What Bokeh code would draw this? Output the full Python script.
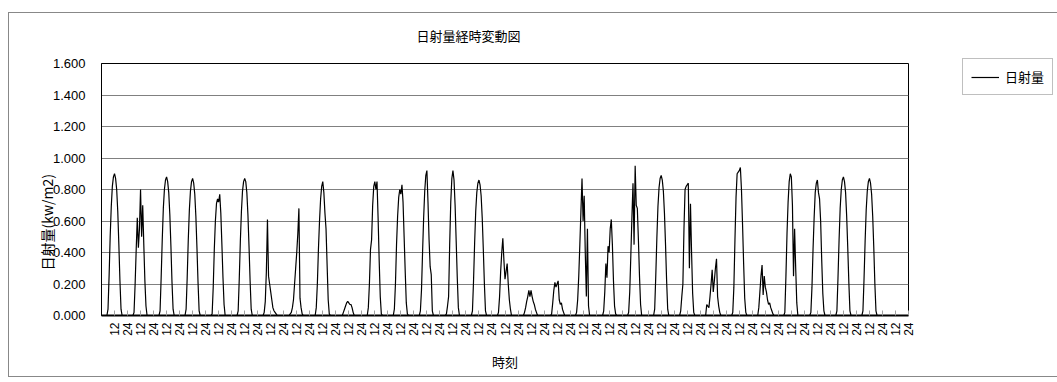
import math
from bokeh.plotting import figure
from bokeh.models import (Range1d, FixedTicker, PrintfTickFormatter, Title,
                          Legend, LegendItem)
from bokeh.embed import file_html
from bokeh.resources import INLINE

# ---------------- data (hourly solar radiation, kW/m2, 31 days x 24 h) -------
TITLE = "日射量経時変動図"
Y_LABEL = "日射量(kw/m2)"
X_LABEL = "時刻"
SERIES_NAME = "日射量"
HOUR_LABELS = ["12", "24"]
Y_TICKS = [0.0, 0.2, 0.4, 0.6, 0.8, 1.0, 1.2, 1.4, 1.6]
N_DAYS = 31

day01 = [0, 0, 0, 0, 0, 0.04, 0.25, 0.50, 0.69, 0.82, 0.88, 0.90, 0.87, 0.80, 0.66, 0.45, 0.22, 0.04, 0, 0, 0, 0, 0, 0]
day02 = [0, 0, 0, 0, 0, 0.02, 0.20, 0.42, 0.62, 0.43, 0.55, 0.80, 0.50, 0.70, 0.45, 0.22, 0.06, 0.00, 0, 0, 0, 0, 0, 0]
day03 = [0, 0, 0, 0, 0, 0.03, 0.24, 0.48, 0.68, 0.80, 0.86, 0.88, 0.85, 0.78, 0.64, 0.44, 0.21, 0.04, 0, 0, 0, 0, 0, 0]
day04 = [0, 0, 0, 0, 0, 0.04, 0.24, 0.48, 0.67, 0.79, 0.85, 0.87, 0.84, 0.77, 0.63, 0.43, 0.21, 0.03, 0, 0, 0, 0, 0, 0]
day05 = [0, 0, 0, 0, 0, 0.01, 0.18, 0.42, 0.60, 0.71, 0.74, 0.72, 0.77, 0.65, 0.45, 0.24, 0.07, 0.00, 0, 0, 0, 0, 0, 0]
day06 = [0, 0, 0, 0, 0, 0.03, 0.23, 0.47, 0.66, 0.79, 0.85, 0.87, 0.85, 0.78, 0.64, 0.44, 0.22, 0.04, 0, 0, 0, 0, 0, 0]
day07 = [0, 0, 0, 0, 0, 0.02, 0.09, 0.28, 0.61, 0.25, 0.20, 0.15, 0.10, 0.05, 0.03, 0.02, 0.01, 0.00, 0, 0, 0, 0, 0, 0]
day08 = [0, 0, 0, 0, 0, 0.01, 0.02, 0.05, 0.10, 0.20, 0.30, 0.40, 0.52, 0.68, 0.11, 0.05, 0.01, 0.00, 0, 0, 0, 0, 0, 0]
day09 = [0, 0, 0, 0, 0, 0.05, 0.20, 0.42, 0.60, 0.74, 0.82, 0.85, 0.78, 0.65, 0.55, 0.32, 0.10, 0.01, 0, 0, 0, 0, 0, 0]
day10 = [0, 0, 0, 0, 0, 0.00, 0.02, 0.04, 0.06, 0.08, 0.09, 0.08, 0.07, 0.07, 0.05, 0.02, 0.00, 0.00, 0, 0, 0, 0, 0, 0]
day11 = [0, 0, 0, 0, 0, 0.05, 0.20, 0.42, 0.48, 0.70, 0.82, 0.85, 0.80, 0.85, 0.62, 0.35, 0.12, 0.01, 0, 0, 0, 0, 0, 0]
day12 = [0, 0, 0, 0, 0, 0.04, 0.20, 0.45, 0.63, 0.75, 0.80, 0.77, 0.83, 0.72, 0.50, 0.28, 0.08, 0.01, 0, 0, 0, 0, 0, 0]
day13 = [0, 0, 0, 0, 0, 0.03, 0.16, 0.40, 0.62, 0.79, 0.89, 0.92, 0.72, 0.48, 0.31, 0.26, 0.03, 0.00, 0, 0, 0, 0, 0, 0]
day14 = [0, 0, 0, 0, 0, 0.01, 0.06, 0.12, 0.45, 0.72, 0.87, 0.92, 0.86, 0.70, 0.47, 0.24, 0.05, 0.00, 0, 0, 0, 0, 0, 0]
day15 = [0, 0, 0, 0, 0, 0.03, 0.22, 0.46, 0.66, 0.78, 0.84, 0.86, 0.83, 0.76, 0.62, 0.42, 0.20, 0.03, 0, 0, 0, 0, 0, 0]
day16 = [0, 0, 0, 0, 0, 0.02, 0.12, 0.28, 0.40, 0.49, 0.35, 0.23, 0.28, 0.33, 0.20, 0.10, 0.04, 0.00, 0, 0, 0, 0, 0, 0]
day17 = [0, 0, 0, 0, 0, 0.02, 0.05, 0.09, 0.12, 0.16, 0.12, 0.16, 0.12, 0.09, 0.07, 0.04, 0.02, 0.00, 0, 0, 0, 0, 0, 0]
day18 = [0, 0, 0, 0, 0, 0.00, 0.01, 0.08, 0.16, 0.21, 0.18, 0.20, 0.22, 0.10, 0.07, 0.08, 0.04, 0.02, 0, 0, 0, 0, 0, 0]
day19 = [0, 0, 0, 0, 0, 0.02, 0.10, 0.25, 0.45, 0.66, 0.87, 0.60, 0.76, 0.40, 0.12, 0.55, 0.06, 0.00, 0, 0, 0, 0, 0, 0]
day20 = [0, 0, 0, 0, 0, 0.00, 0.03, 0.15, 0.33, 0.24, 0.44, 0.40, 0.55, 0.61, 0.45, 0.22, 0.06, 0.01, 0, 0, 0, 0, 0, 0]
day21 = [0, 0, 0, 0, 0, 0.02, 0.15, 0.38, 0.62, 0.84, 0.45, 0.95, 0.70, 0.68, 0.48, 0.25, 0.07, 0.00, 0, 0, 0, 0, 0, 0]
day22 = [0, 0, 0, 0, 0, 0.04, 0.25, 0.49, 0.69, 0.81, 0.87, 0.89, 0.86, 0.79, 0.65, 0.45, 0.22, 0.04, 0, 0, 0, 0, 0, 0]
day23 = [0, 0, 0, 0, 0, 0.03, 0.12, 0.20, 0.55, 0.80, 0.82, 0.83, 0.84, 0.30, 0.71, 0.40, 0.14, 0.02, 0, 0, 0, 0, 0, 0]
day24 = [0, 0, 0, 0, 0, 0.07, 0.06, 0.05, 0.12, 0.20, 0.29, 0.15, 0.22, 0.30, 0.36, 0.12, 0.06, 0.02, 0, 0, 0, 0, 0, 0]
day25 = [0, 0, 0, 0, 0, 0.02, 0.18, 0.48, 0.75, 0.90, 0.91, 0.92, 0.94, 0.80, 0.58, 0.33, 0.11, 0.02, 0, 0, 0, 0, 0, 0]
day26 = [0, 0, 0, 0, 0, 0.05, 0.15, 0.25, 0.32, 0.13, 0.25, 0.18, 0.15, 0.10, 0.07, 0.08, 0.05, 0.03, 0.01, 0, 0, 0, 0, 0]
day27 = [0, 0, 0, 0, 0, 0.02, 0.25, 0.52, 0.72, 0.85, 0.90, 0.88, 0.70, 0.25, 0.55, 0.30, 0.08, 0.00, 0, 0, 0, 0, 0, 0]
day28 = [0, 0, 0, 0, 0, 0.02, 0.18, 0.42, 0.62, 0.78, 0.84, 0.86, 0.78, 0.74, 0.60, 0.35, 0.14, 0.03, 0, 0, 0, 0, 0, 0]
day29 = [0, 0, 0, 0, 0, 0.03, 0.24, 0.48, 0.68, 0.80, 0.86, 0.88, 0.85, 0.78, 0.63, 0.43, 0.21, 0.03, 0, 0, 0, 0, 0, 0]
day30 = [0, 0, 0, 0, 0, 0.03, 0.23, 0.47, 0.67, 0.79, 0.85, 0.87, 0.84, 0.77, 0.63, 0.43, 0.20, 0.03, 0, 0, 0, 0, 0, 0]
day31 = [0, 0, 0, 0, 0, 0.00, 0.00, 0.00, 0.00, 0.00, 0.00, 0.00, 0.00, 0.00, 0.00, 0.00, 0.00, 0.00, 0, 0, 0, 0, 0, 0]

days = [day01, day02, day03, day04, day05, day06, day07, day08, day09, day10,
        day11, day12, day13, day14, day15, day16, day17, day18, day19, day20,
        day21, day22, day23, day24, day25, day26, day27, day28, day29, day30,
        day31]

radiation = [v for d in days for v in d]
hours = list(range(1, len(radiation) + 1))
total_hours = 24 * N_DAYS

# ---------------- figure ----------------------------------------------------
JP = "Noto Sans CJK JP"
NUM = "Liberation Sans"

p = figure(frame_width=807, frame_height=252, width=None, height=None,
           x_range=Range1d(0, total_hours), y_range=Range1d(0, 1.6),
           output_backend="svg", toolbar_location=None,
           min_border_left=92, min_border_right=147,
           min_border_top=50, min_border_bottom=61)
p.styles = {"border": "1px solid #888888", "margin-left": "8px",
            "margin-top": "12px"}
p.background_fill_color = "white"
p.border_fill_color = "white"
p.outline_line_color = "black"
p.outline_line_width = 1

line = p.line(hours, radiation, line_color="black", line_width=1.2)

# x axis
xticks = list(range(12, total_hours + 1, 12))
xax = p.xaxis[0]
xax.ticker = FixedTicker(ticks=xticks)
xax.major_label_overrides = {t: HOUR_LABELS[(i % 2)] for i, t in enumerate(xticks)}
xax.major_label_orientation = math.pi / 2
xax.major_tick_in = 5
xax.major_tick_out = 0
xax.major_tick_line_color = "#a0a0a0"
xax.minor_tick_line_color = None
xax.axis_line_color = "black"
xax.axis_line_width = 2
xax.major_label_standoff = 7
xax.major_label_text_font = NUM
xax.major_label_text_font_size = "12px"
xax.major_label_text_color = "black"
xax.axis_label = X_LABEL
xax.axis_label_text_font = JP
xax.axis_label_text_font_size = "13px"
xax.axis_label_text_font_style = "normal"
xax.axis_label_text_color = "black"
xax.axis_label_standoff = 13

# y axis
yax = p.yaxis[0]
yax.ticker = FixedTicker(ticks=Y_TICKS)
yax.formatter = PrintfTickFormatter(format="%.3f")
yax.major_tick_in = 0
yax.major_tick_out = 0
yax.minor_tick_line_color = None
yax.axis_line_color = "black"
yax.axis_line_width = 1
yax.major_label_standoff = 16
yax.major_label_text_font = NUM
yax.major_label_text_font_size = "13px"
yax.major_label_text_color = "black"

p.xgrid.visible = False
p.ygrid.ticker = FixedTicker(ticks=Y_TICKS)
p.ygrid.grid_line_color = "#808080"
p.ygrid.grid_line_width = 1

# spacer between frame and chart title, then the title itself
p.add_layout(Title(text=" ", text_font_size="1px", standoff=14), "above")
p.add_layout(Title(text=TITLE, align="left", offset=315, standoff=4,
                   text_font=JP, text_font_size="13px",
                   text_font_style="normal", text_color="black"), "above")
# vertical axis title
p.add_layout(Title(text=Y_LABEL, align="left", offset=45, standoff=-14,
                   text_font=JP, text_font_size="14px",
                   text_font_style="normal", text_color="black"), "left")

legend = Legend(items=[LegendItem(label=SERIES_NAME, renderers=[line])],
                location=(54, 220), orientation="vertical",
                border_line_color="#808080", border_line_width=1,
                background_fill_color="white", background_fill_alpha=1,
                padding=8, margin=0, spacing=0,
                glyph_width=28, glyph_height=18, label_standoff=6,
                label_text_font=JP, label_text_font_size="13px",
                label_text_color="black")
p.add_layout(legend, "right")

open("out.html", "w").write(file_html(p, INLINE))
